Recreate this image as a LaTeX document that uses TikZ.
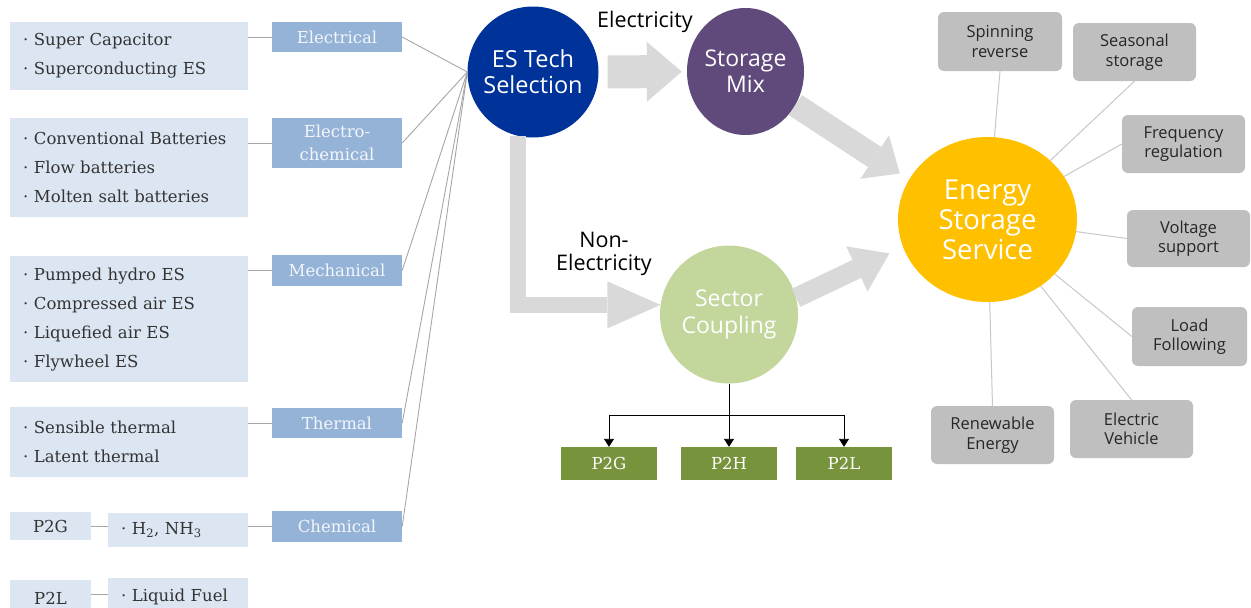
\documentclass[tikz,border=0pt]{standalone}
\usepackage{fontspec}
\setmainfont{DejaVu Serif}
\newfontfamily\sansf{Open Sans}
\usetikzlibrary{arrows.meta,shapes.geometric}

\definecolor{listfill}{HTML}{DCE6F2}
\definecolor{listtext}{HTML}{333333}
\definecolor{catfill}{HTML}{95B3D7}
\definecolor{cattext}{HTML}{F2F6FB}
\definecolor{esblue}{HTML}{003399}
\definecolor{mixpurple}{HTML}{604A7B}
\definecolor{secgreen}{HTML}{C3D69B}
\definecolor{essgold}{HTML}{FFC000}
\definecolor{pgreen}{HTML}{77933C}
\definecolor{svcfill}{HTML}{BFBFBF}
\definecolor{svctext}{HTML}{262626}
\definecolor{flowgray}{HTML}{D9D9D9}
\definecolor{wiregray}{HTML}{A6A6A6}
\definecolor{spokegray}{HTML}{C8C8C8}

\tikzset{
  listbox/.style={fill=listfill, text=listtext, align=left, anchor=north west,
    inner xsep=13pt, inner ysep=0pt, font=\fontsize{16.5}{29}\selectfont},
  catbox/.style={fill=catfill, text=cattext, align=center, inner sep=0pt,
    minimum width=130pt, font=\fontsize{16.5}{23}\selectfont},
  tagbox/.style={fill=listfill, text=listtext, inner sep=0pt,
    minimum width=81pt, font=\fontsize{16.5}{18}\selectfont},
  hub/.style={circle, inner sep=0pt, text=white, align=center},
  pbox/.style={fill=pgreen, text=white, inner sep=0pt, minimum width=96pt,
    minimum height=33pt, font=\fontsize{16.5}{18}\selectfont},
  svcbox/.style={fill=svcfill, text=svctext, rounded corners=6pt, inner sep=0pt,
    align=center, font=\sansf\fontsize{16.5}{19.5}\selectfont},
  wire/.style={draw=wiregray, line width=0.9pt},
  spoke/.style={draw=spokegray, line width=1pt},
  flow/.style={draw=flowgray, line join=miter},
  tree/.style={draw=black, line width=0.9pt, -{Triangle[length=8pt,width=10pt]}}
}

\begin{document}
\begin{tikzpicture}[x=1pt,y=-1pt]
\clip (0,0) rectangle (1251,608);
\fill[white] (0,0) rectangle (1251,608);

% ---------- technology lists ----------
\node[listbox, text width=212pt, minimum height=68pt] (l1) at (10,22)
  {· Super Capacitor\\· Superconducting ES};
\node[listbox, text width=212pt, minimum height=99pt] (l2) at (10,118)
  {· Conventional Batteries\\· Flow batteries\\· Molten salt batteries};
\node[listbox, text width=212pt, minimum height=126pt] (l3) at (10,256)
  {· Pumped hydro ES\\· Compressed air ES\\· Liquefied air ES\\· Flywheel ES};
\node[listbox, text width=212pt, minimum height=70pt] (l4) at (10,407)
  {· Sensible thermal\\· Latent thermal};

\node[tagbox, minimum height=28pt] (tg) at (50.5,526) {P2G};
\node[listbox, text width=114pt, minimum height=34pt] (h2) at (108,513)
  {· H\textsubscript{2}, NH\textsubscript{3}};
\node[tagbox, minimum height=36pt] (tl) at (50.5,598) {P2L};
\node[listbox, text width=114pt, minimum height=38pt] (lf) at (108,578)
  {· Liquid Fuel};

% ---------- categories ----------
\node[catbox, minimum height=30pt] (c1) at (337,37) {Electrical};
\node[catbox, minimum height=50pt] (c2) at (337,143) {Electro-\\chemical};
\node[catbox, minimum height=31pt] (c3) at (337,270.5) {Mechanical};
\node[catbox, minimum height=30pt] (c4) at (337,423) {Thermal};
\node[catbox, minimum height=31pt] (c5) at (337,526.5) {Chemical};

\draw[wire] (c1.west) -- (c1.west -| l1.east);
\draw[wire] (c2.west) -- (c2.west -| l2.east);
\draw[wire] (c3.west) -- (c3.west -| l3.east);
\draw[wire] (c4.west) -- (c4.west -| l4.east);
\draw[wire] (c5.west) -- (c5.west -| h2.east);
\draw[wire] (tg.east) -- (tg.east -| h2.west);
\draw[wire] (tl.east |- 0,594) -- (lf.west |- 0,594);

% ---------- hubs ----------
\node[hub, fill=esblue, minimum size=131pt, font=\sansf\fontsize{23.5}{26}\selectfont]
  (es) at (533,72) {ES Tech\\Selection};
\node[hub, ellipse, fill=mixpurple, minimum width=117pt, minimum height=127pt,
  font=\sansf\fontsize{23}{26}\selectfont] (sm) at (745.5,71.5) {Storage\\Mix};
\node[hub, fill=secgreen, minimum size=138pt, font=\sansf\fontsize{23}{27}\selectfont]
  (sc) at (729,314.5) {Sector\\Coupling};
\node[hub, ellipse, fill=essgold, minimum width=179pt, minimum height=165pt,
  font=\sansf\fontsize{27.5}{30}\selectfont] (ess) at (987.5,219.5)
  {Energy\\Storage\\Service};

\foreach \c in {c1,c2,c3,c4,c5} \draw[wire] (\c.east) -- (es.west);

% ---------- flows ----------
\draw[flow, line width=33pt, -{Triangle[length=35pt,width=60pt,line width=0pt]},
  shorten <=9pt, shorten >=5pt] (es) -- (sm);
\draw[flow, line width=24pt, -{Triangle[length=30pt,width=52pt,line width=0pt]},
  shorten >=11pt] (sm.326) -- (ess.153);
\draw[flow, line width=16pt, -{Triangle[length=53pt,width=47pt,line width=0pt]}]
  (es.257) |- (sc.172);
\draw[flow, line width=20pt, -{Triangle[length=36pt,width=50pt,line width=0pt]},
  shorten >=15pt] (sc.14) -- (ess.198);

\node[font=\sansf\fontsize{21.5}{23}\selectfont, text=black] (lbe) at (645,22) {Electricity};
\node[font=\sansf\fontsize{21.5}{23}\selectfont, text=black, align=center] (lbn)
  at (604,253.5) {Non-\\Electricity};

% ---------- sector coupling outputs ----------
\node[pbox] (p2g) at (609,463.5) {P2G};
\node[pbox] (p2h) at (729,463.5) {P2H};
\node[pbox] (p2l) at (844,463.5) {P2L};
\coordinate (split) at (729,415);
\draw[draw=black, line width=0.9pt] (sc.south) -- (split);
\draw[tree] (split) -| (p2g.north);
\draw[tree] (split) -- (p2h.north);
\draw[tree] (split) -| (p2l.north);

% ---------- services ----------
\node[svcbox, minimum width=124pt, minimum height=59pt] (spin) at (1000,41.5) {Spinning\\reverse};
\node[svcbox, minimum width=123pt, minimum height=58pt] (seas) at (1134.5,52) {Seasonal\\storage};
\node[svcbox, minimum width=123pt, minimum height=58pt] (freq) at (1183.5,144) {Frequency\\regulation};
\node[svcbox, minimum width=123pt, minimum height=57pt] (volt) at (1188.5,238.5) {Voltage\\support};
\node[svcbox, minimum width=115pt, minimum height=59pt] (load) at (1189.5,336.5) {Load\\Following};
\node[svcbox, minimum width=123pt, minimum height=58pt] (ev) at (1131.5,429) {Electric\\Vehicle};
\node[svcbox, minimum width=123pt, minimum height=58pt] (ren) at (992.5,435) {Renewable\\Energy};

\draw[spoke] (ess) -- (spin.south);
\draw[spoke] (ess) -- (seas.south);
\draw[spoke] (ess) -- (freq.west);
\draw[spoke] (ess) -- (volt.west);
\draw[spoke] (ess) -- (load.west);
\draw[spoke] (ess) -- (ev.north);
\draw[spoke] (ess) -- (ren.north);
\end{tikzpicture}
\end{document}
